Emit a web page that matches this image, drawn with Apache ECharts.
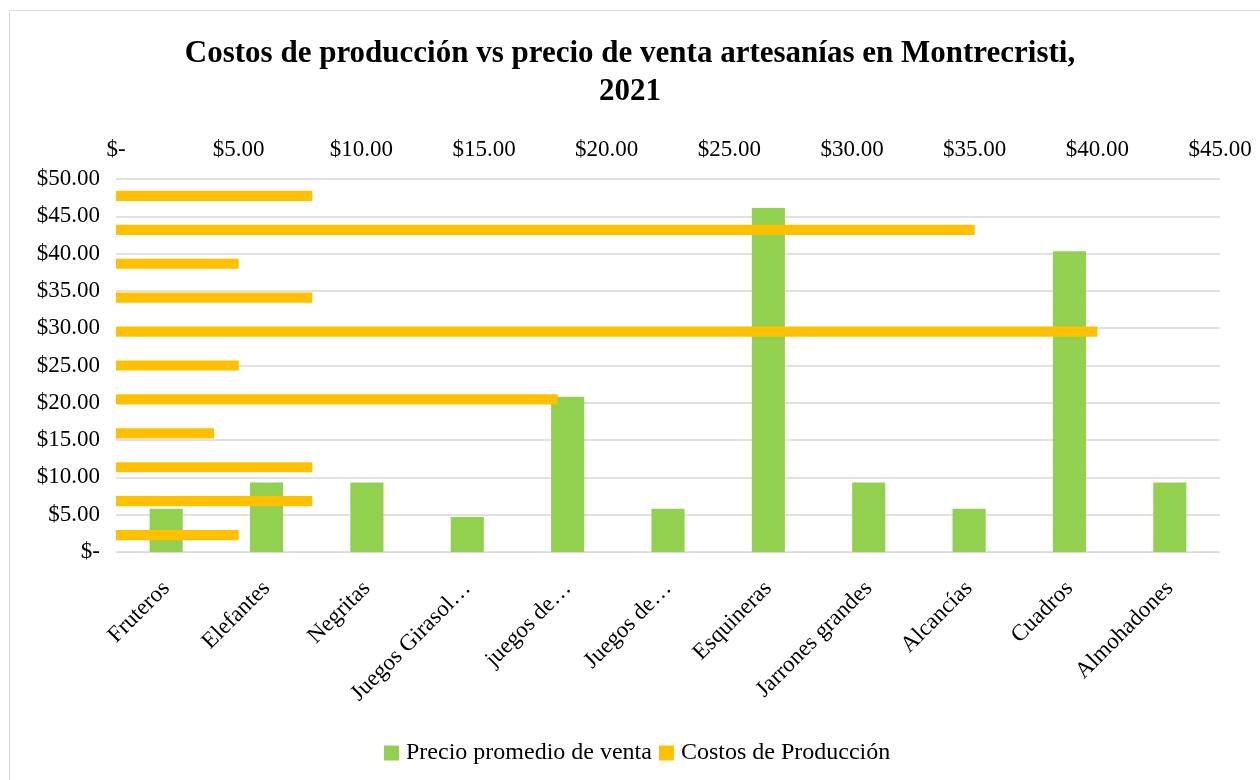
<!DOCTYPE html>
<html>
<head>
<meta charset="utf-8">
<script src="https://cdn.jsdelivr.net/npm/echarts@6/dist/echarts.min.js"></script>
<style>
  html, body { margin: 0; padding: 0; background: #fff; }
  #frame { position: absolute; left: 9px; top: 10px; width: 1260px; height: 780px; border: 1px solid #d9d9d9; box-sizing: border-box; }
  #chart { position: absolute; left: 0; top: 0; width: 1260px; height: 780px; }
</style>
</head>
<body>
<div id="frame"></div>
<div id="chart"></div>
<script>
// categorías (de abajo a la izquierda)
const categories = [
  "Fruteros", "Elefantes", "Negritas", "Juegos Girasol…", "juegos de…",
  "Juegos de…", "Esquineras", "Jarrones grandes", "Alcancías", "Cuadros", "Almohadones"
];
const precioVenta = [5.8, 9.3, 9.3, 4.7, 20.8, 5.8, 46.1, 9.3, 5.8, 40.3, 9.3];
const costosProduccion = [5, 8, 8, 4, 18, 5, 40, 8, 5, 35, 8];

const serif = "'Liberation Serif', 'DejaVu Serif', serif";
const money = (v) => (v === 0 ? "$-" : "$" + v.toFixed(2));

const chart = echarts.init(document.getElementById("chart"));

const option = {
  animation: false,
  textStyle: { fontFamily: serif },
  title: {
    text: "Costos de producción vs precio de venta artesanías en Montrecristi,\n2021",
    left: "center",
    top: 30,
    textStyle: { fontFamily: serif, fontSize: 31, fontWeight: "bold", color: "#000", lineHeight: 38 }
  },
  legend: {
    left: 379,
    top: 736,
    icon: "rect",
    itemWidth: 15,
    itemHeight: 15,
    itemGap: 7,
    textStyle: { fontFamily: serif, fontSize: 24, color: "#000", padding: [0, 0, 0, 2] },
    data: ["Precio promedio de venta", "Costos de Producción"]
  },
  grid: { left: 116, right: 40, top: 179, bottom: 228 },
  xAxis: [
    {
      type: "category",
      data: categories,
      position: "bottom",
      axisLine: { lineStyle: { color: "#d9d9d9" } },
      axisTick: { show: false },
      axisLabel: { rotate: 45, fontSize: 23, color: "#000", fontFamily: serif, margin: 33, interval: 0 }
    },
    {
      type: "value",
      position: "top",
      min: 0,
      max: 45,
      interval: 5,
      axisLine: { show: false },
      axisTick: { show: false },
      splitLine: { show: false },
      axisLabel: { fontSize: 23, color: "#000", fontFamily: serif, margin: 18, formatter: money }
    }
  ],
  yAxis: [
    {
      type: "value",
      min: 0,
      max: 50,
      interval: 5,
      axisLine: { show: false },
      axisTick: { show: false },
      splitLine: { lineStyle: { color: "#d9d9d9", width: 1.5 } },
      axisLabel: { fontSize: 23, color: "#000", fontFamily: serif, margin: 16, formatter: money }
    },
    {
      type: "category",
      data: categories,
      position: "right",
      show: false
    }
  ],
  series: [
    {
      name: "Precio promedio de venta",
      type: "bar",
      xAxisIndex: 0,
      yAxisIndex: 0,
      barWidth: "33%",
      data: precioVenta,
      itemStyle: { color: "#92D050" }
    },
    {
      name: "Costos de Producción",
      type: "bar",
      xAxisIndex: 1,
      yAxisIndex: 1,
      barWidth: "30%",
      data: costosProduccion,
      itemStyle: { color: "#FFC000" }
    }
  ]
};

chart.setOption(option);
</script>
</body>
</html>
